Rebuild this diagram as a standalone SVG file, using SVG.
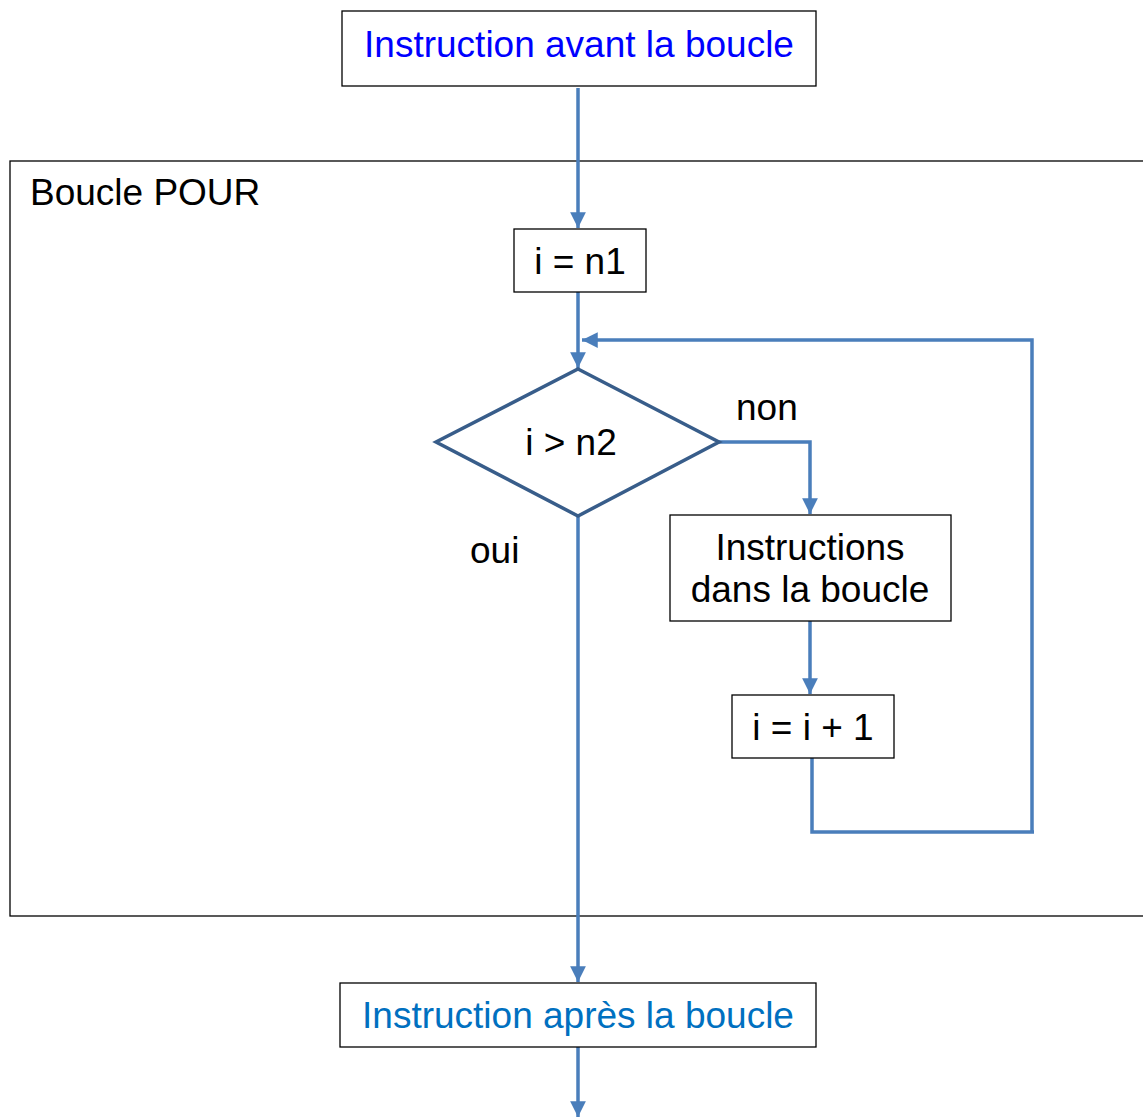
<svg xmlns="http://www.w3.org/2000/svg" width="1143" height="1117" viewBox="0 0 1143 1117">
<defs>
<style>
.box{fill:#fff;stroke:#000;stroke-width:1.3}
.frame{fill:none;stroke:#000;stroke-width:1.3}
.dia{fill:#fff;stroke:#385D8A;stroke-width:3.5}
.con{fill:none;stroke:#4A7EBB;stroke-width:3.5}
.t{font-family:"Liberation Sans",Arial,sans-serif;font-size:37px;fill:#000}
.c{text-anchor:middle}
</style>
<marker id="ah" viewBox="0 0 10 10" refX="10" refY="5" markerWidth="4.5" markerHeight="4.5" orient="auto" markerUnits="strokeWidth">
<path d="M0,0 L10,5 L0,10 z" fill="#4A7EBB"/>
</marker>
</defs>
<rect width="1143" height="1117" fill="#fff"/>
<g id="frame">
<rect class="frame" x="10" y="161" width="1140" height="755"/>
<text class="t" x="30" y="205">Boucle POUR</text>
</g>
<g id="connectors">
<line class="con" x1="578" y1="88" x2="578" y2="228" marker-end="url(#ah)"/>
<line class="con" x1="578" y1="292" x2="578" y2="368" marker-end="url(#ah)"/>
<polyline class="con" points="812,758 812,832 1034,832"/>
<polyline class="con" points="1032,832 1032,340 582,340" marker-end="url(#ah)"/>
<polyline class="con" points="719,442 810,442 810,514" marker-end="url(#ah)"/>
<line class="con" x1="810" y1="621" x2="810" y2="694" marker-end="url(#ah)"/>
<line class="con" x1="578" y1="516" x2="578" y2="982" marker-end="url(#ah)"/>
<line class="con" x1="578" y1="1047" x2="578" y2="1117" marker-end="url(#ah)"/>
<text class="t" x="736" y="420">non</text>
<text class="t" x="470" y="563">oui</text>
</g>
<g id="start">
<rect class="box" x="342" y="11" width="474" height="75"/>
<text class="t c" x="579" y="57" style="fill:#0000FF">Instruction avant la boucle</text>
</g>
<g id="init">
<rect class="box" x="514" y="229" width="132" height="63"/>
<text class="t c" x="580" y="274">i = n1</text>
</g>
<g id="cond">
<polygon class="dia" points="578,369 719,442 578,516 436,442"/>
<text class="t c" x="571" y="455">i &gt; n2</text>
</g>
<g id="body">
<rect class="box" x="670" y="515" width="281" height="106"/>
<text class="t c" x="810" y="560">Instructions</text>
<text class="t c" x="810" y="602">dans la boucle</text>
</g>
<g id="incr">
<rect class="box" x="732" y="695" width="162" height="63"/>
<text class="t c" x="813" y="740">i = i + 1</text>
</g>
<g id="end">
<rect class="box" x="340" y="983" width="476" height="64"/>
<text class="t c" x="578" y="1028" style="fill:#0070C0">Instruction après la boucle</text>
</g>
</svg>
